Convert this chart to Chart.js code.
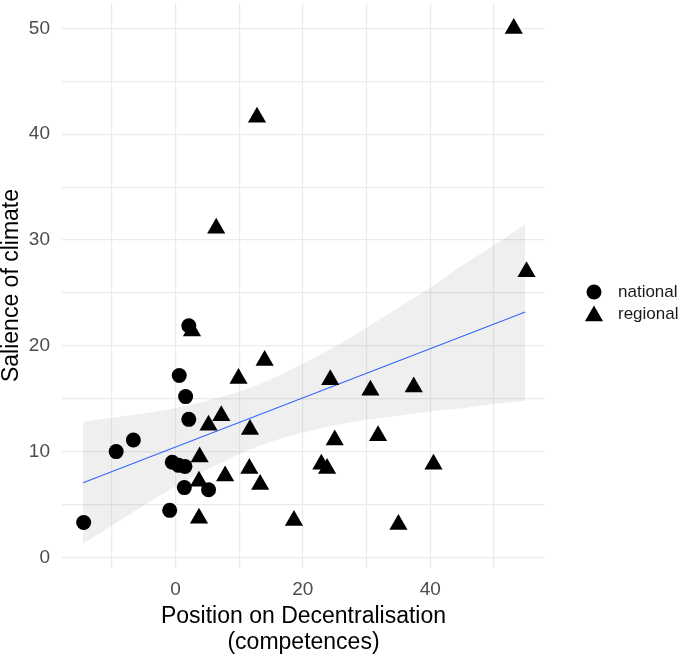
<!DOCTYPE html>
<html lang="en">
<head>
    <meta charset="UTF-8">
    <title>Salience of climate vs decentralisation</title>
    <style>
        body {
            margin: 0;
            padding: 0;
            background-color: #fff;
        }

        canvas {
            display: block;
        }
    </style>
    <script src="https://cdn.jsdelivr.net/npm/chart.js"></script>
</head>
<body>
    <canvas id="climateChart" width="685" height="656"></canvas>
    <script>
        // national parties (circles)
        const nationalX = [-14.4, -9.3, -6.6, -0.9, -0.5, 0.5, 1.5, 0.6, 1.6, 2.1, 1.4, 5.2, 2.1];
        const nationalY = [3.3, 10.0, 11.1, 4.45, 9.0, 8.7, 8.6, 17.2, 15.2, 13.05, 6.6, 6.4, 21.9];

        // regional parties (triangles)
        const regionalX = [2.6, 14.0, 9.9, 7.2, 5.2, 11.7, 3.8, 11.6, 7.8, 3.7, 13.3, 3.7, 18.6,
                           24.3, 30.6, 37.4, 25.0, 31.8, 22.9, 23.8, 40.5, 35.0, 53.1, 55.1, 12.8, 6.4];
        const regionalY = [21.4, 18.6, 16.9, 13.4, 12.5, 12.1, 9.5, 8.4, 7.7, 7.2, 6.9, 3.7, 3.5,
                           16.8, 15.8, 16.1, 11.1, 11.5, 8.8, 8.4, 8.8, 3.1, 50.0, 27.0, 41.6, 31.1];

        // linear fit and its confidence band
        const fitX = [-14.5, 54.9];
        const fitY = [7.05, 23.2];
        const bandX = [-14.5, -10, -5, 0, 5, 12.5, 20, 25, 30, 35, 40, 45, 50, 54.9];
        const bandUpper = [12.8, 13.2, 13.6, 14.1, 14.8, 16.2, 18.3, 19.9, 21.7, 23.6, 25.5, 27.6, 29.5, 31.5];
        const bandLower = [1.3, 3.0, 4.9, 6.7, 8.3, 10.4, 11.8, 12.5, 13.0, 13.4, 13.8, 14.1, 14.5, 14.8];

        // axis ticks
        const xTicks = [-10, 0, 10, 20, 30, 40, 50];
        const xLabelled = [0, 20, 40];
        const yTicks = [0, 5, 10, 15, 20, 25, 30, 35, 40, 45, 50];
        const yLabelled = [0, 10, 20, 30, 40, 50];

        const legendItems = ['national', 'regional'];

        const FONT = '"Liberation Sans", Arial, sans-serif';

        const toPoints = (xs, ys) => xs.map((x, i) => ({ x: x, y: ys[i] }));

        // legend drawn by hand to sit where ggplot puts it
        const sideLegend = {
            id: 'sideLegend',
            afterDraw(chart) {
                const ctx = chart.ctx;
                ctx.save();
                ctx.fillStyle = '#000';
                // circle
                ctx.beginPath();
                ctx.arc(594, 292, 7.5, 0, Math.PI * 2);
                ctx.fill();
                // triangle
                const r = 10.5, cx = 594, cy = 316;
                ctx.beginPath();
                ctx.moveTo(cx, cy - r);
                ctx.lineTo(cx + Math.sin(2 * Math.PI / 3) * r, cy + r / 2);
                ctx.lineTo(cx - Math.sin(2 * Math.PI / 3) * r, cy + r / 2);
                ctx.closePath();
                ctx.fill();
                ctx.fillStyle = '#1a1a1a';
                ctx.font = '17px ' + FONT;
                ctx.textBaseline = 'middle';
                ctx.fillText(legendItems[0], 618, 292);
                ctx.fillText(legendItems[1], 618, 314);
                ctx.restore();
            }
        };

        const gridColor = '#ebebeb';

        const ctx = document.getElementById('climateChart').getContext('2d');
        const climateChart = new Chart(ctx, {
            type: 'scatter',
            data: {
                datasets: [
                    {
                        label: 'national',
                        data: toPoints(nationalX, nationalY),
                        pointStyle: 'circle',
                        pointRadius: 7.5,
                        backgroundColor: '#000',
                        borderWidth: 0
                    },
                    {
                        label: 'regional',
                        data: toPoints(regionalX, regionalY),
                        pointStyle: 'triangle',
                        pointRadius: 10.5,
                        backgroundColor: '#000',
                        borderWidth: 0
                    },
                    {
                        label: 'fit',
                        data: toPoints(fitX, fitY),
                        showLine: true,
                        pointRadius: 0,
                        borderColor: '#3366FF',
                        borderWidth: 1.1
                    },
                    {
                        label: 'upper',
                        data: toPoints(bandX, bandUpper),
                        showLine: true,
                        pointRadius: 0,
                        borderWidth: 0,
                        cubicInterpolationMode: 'monotone',
                        fill: '+1',
                        backgroundColor: 'rgba(120, 120, 120, 0.12)'
                    },
                    {
                        label: 'lower',
                        data: toPoints(bandX, bandLower),
                        showLine: true,
                        pointRadius: 0,
                        borderWidth: 0,
                        cubicInterpolationMode: 'monotone'
                    }
                ]
            },
            options: {
                responsive: false,
                animation: false,
                layout: {
                    autoPadding: false,
                    padding: { top: 3, right: 140, left: 0, bottom: 0 }
                },
                plugins: {
                    legend: { display: false },
                    tooltip: { enabled: false }
                },
                scales: {
                    x: {
                        type: 'linear',
                        min: -17.8,
                        max: 58.0,
                        border: { display: false },
                        grid: {
                            color: gridColor,
                            lineWidth: 1.2,
                            drawTicks: false
                        },
                        afterBuildTicks: (scale) => {
                            scale.ticks = xTicks.map(v => ({ value: v }));
                        },
                        afterFit: (scale) => {
                            scale.height = 88;
                        },
                        ticks: {
                            padding: 10,
                            color: '#4d4d4d',
                            font: { family: FONT, size: 19 },
                            callback: (v) => xLabelled.includes(v) ? String(v) : ''
                        },
                        title: {
                            display: true,
                            text: ['Position on Decentralisation', '(competences)'],
                            color: '#000',
                            padding: { top: 0, bottom: 0 },
                            font: { family: FONT, size: 23, lineHeight: 1.13 }
                        }
                    },
                    y: {
                        type: 'linear',
                        min: -1.0,
                        max: 52.4,
                        border: { display: false },
                        grid: {
                            color: gridColor,
                            lineWidth: 1.2,
                            drawTicks: false
                        },
                        afterBuildTicks: (scale) => {
                            scale.ticks = yTicks.map(v => ({ value: v }));
                        },
                        afterFit: (scale) => {
                            scale.width = 62;
                            // label padding would otherwise push the plot top down
                            scale.paddingTop = 0;
                            scale.paddingBottom = 0;
                        },
                        ticks: {
                            padding: 12,
                            color: '#4d4d4d',
                            font: { family: FONT, size: 19 },
                            callback: (v) => yLabelled.includes(v) ? String(v) : ''
                        },
                        title: {
                            display: true,
                            text: 'Salience of climate',
                            color: '#000',
                            padding: { top: 0, bottom: 0 },
                            font: { family: FONT, size: 23, lineHeight: 1.0 }
                        }
                    }
                }
            },
            plugins: [sideLegend]
        });
    </script>
</body>
</html>
